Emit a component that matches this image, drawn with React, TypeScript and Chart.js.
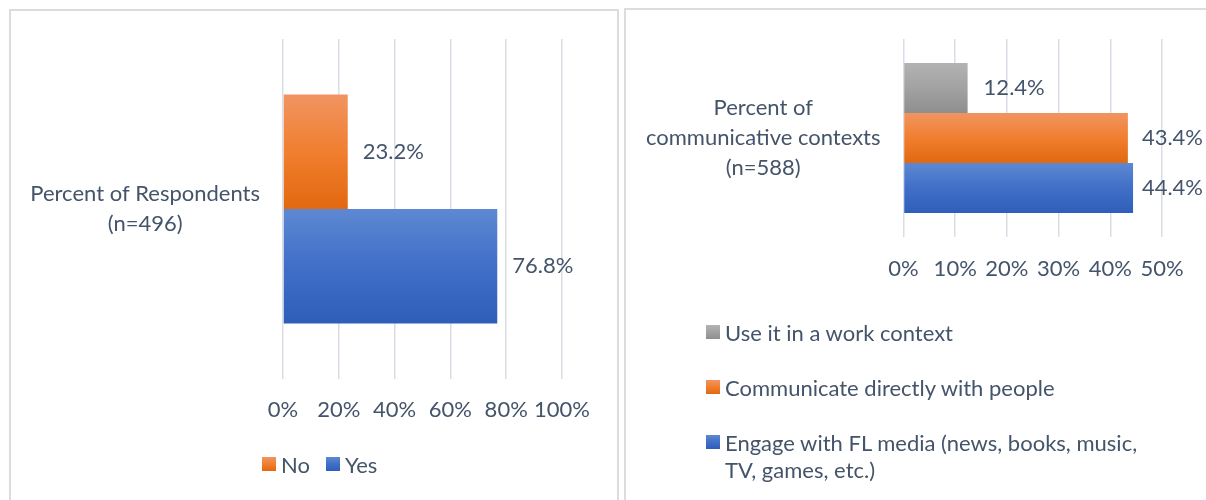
import React, { useEffect, useRef } from 'react';
import { Chart, registerables } from 'chart.js';

Chart.register(...registerables);

const FONT = 'Lato, "Open Sans", sans-serif';
const TEXT = '#44546a';
const GRID = '#d9dee6';
const FS = 22;

// ---- data ----
const leftCategories = [['Percent of Respondents', '(n=496)']];
const leftSeries = ['No', 'Yes'];
const leftValues = [23.2, 76.8];
const leftColors = ['orange', 'blue'];
const leftTickMax = 100;
const leftTickStep = 20;

const rightCategories = [['Percent of', 'communicative contexts', '(n=588)']];
const rightSeries = [
  'Use it in a work context',
  'Communicate directly with people',
  'Engage with FL media (news, books, music, TV, games, etc.)',
];
const rightValues = [12.4, 43.4, 44.4];
const rightColors = ['grey', 'orange', 'blue'];
const rightTickMax = 50;
const rightTickStep = 10;

const PALETTE: Record<string, string[]> = {
  orange: ['#f19462', '#f07f2f', '#e2680f'],
  blue: ['#5e88d2', '#416fc8', '#2e5eb9'],
  grey: ['#b3b3b3', '#a2a2a2', '#8e8e8e'],
};

const gradientPlugin = {
  id: 'barGradient',
  beforeDatasetsDraw(chart: any, _args: any, opts: any) {
    const ctx = chart.ctx;
    chart.data.datasets.forEach((_ds: any, i: number) => {
      const meta = chart.getDatasetMeta(i);
      const stops: string[] = PALETTE[opts.colors[i]];
      meta.data.forEach((el: any) => {
        const top = el.y - el.height / 2;
        const bottom = el.y + el.height / 2;
        const g = ctx.createLinearGradient(0, top, 0, bottom);
        stops.forEach((c, k) => g.addColorStop(k / (stops.length - 1), c));
        el.options = { ...el.options, backgroundColor: g };
      });
    });
  },
};

const valueLabelPlugin = {
  id: 'valueLabels',
  afterDatasetsDraw(chart: any, _args: any, opts: any) {
    const ctx = chart.ctx;
    ctx.save();
    ctx.font = `${FS}px ${FONT}`;
    ctx.fillStyle = TEXT;
    ctx.textAlign = 'left';
    ctx.textBaseline = 'middle';
    chart.data.datasets.forEach((ds: any, i: number) => {
      const meta = chart.getDatasetMeta(i);
      meta.data.forEach((el: any, j: number) => {
        const txt = `${Number(ds.data[j]).toFixed(1)}%`;
        const w = ctx.measureText(txt).width;
        const x = Math.min(el.x + opts.offset, chart.width - w - 3);
        ctx.fillText(txt, x, el.y);
      });
    });
    ctx.restore();
  },
};

type BarChartProps = {
  width: number;
  height: number;
  categories: string[][];
  series: string[];
  values: number[];
  colors: string[];
  tickMax: number;
  tickStep: number;
  catPct: number;
  yWidth: number;
  padding: { top: number; right: number; bottom: number };
  xHeight: number;
  tickPad: number;
  labelOffset: number;
};

function BarChart(p: BarChartProps) {
  const ref = useRef<HTMLCanvasElement>(null);
  useEffect(() => {
    if (!ref.current) return;
    const chart = new Chart(ref.current, {
      type: 'bar',
      data: {
        labels: p.categories as any,
        datasets: p.series.map((name, i) => ({
          label: name,
          data: [p.values[i]],
          backgroundColor: PALETTE[p.colors[i]][1],
          borderWidth: 0,
          categoryPercentage: p.catPct,
          barPercentage: 1,
        })),
      },
      options: {
        indexAxis: 'y',
        responsive: false,
        maintainAspectRatio: false,
        animation: false,
        layout: { padding: { left: 0, right: p.padding.right, top: p.padding.top, bottom: p.padding.bottom } },
        plugins: {
          legend: { display: false },
          tooltip: { enabled: false },
          barGradient: { colors: p.colors },
          valueLabels: { offset: p.labelOffset },
        } as any,
        scales: {
          x: {
            min: 0,
            max: p.tickMax,
            ticks: {
              stepSize: p.tickStep,
              autoSkip: false,
              callback: (v: any) => `${v}%`,
              color: TEXT,
              font: { family: FONT, size: FS },
              padding: p.tickPad,
              maxRotation: 0,
            },
            grid: { color: GRID, lineWidth: 1.5, drawTicks: false },
            border: { display: false },
            afterFit: (s: any) => {
              s.height = p.xHeight;
            },
          },
          y: {
            grid: { display: false, drawTicks: false },
            border: { display: false },
            ticks: {
              crossAlign: 'center',
              padding: 23,
              color: TEXT,
              font: { family: FONT, size: FS, lineHeight: 30 / FS },
            },
            afterFit: (s: any) => {
              s.width = p.yWidth;
              s.paddingTop = 0;
              s.paddingBottom = 0;
            },
          },
        },
      },
      plugins: [gradientPlugin, valueLabelPlugin],
    });
    let alive = true;
    if ((document as any).fonts) {
      (document as any).fonts.load(`${FS}px Lato`).then(() => {
        if (alive) chart.update();
      });
    }
    return () => {
      alive = false;
      chart.destroy();
    };
  }, []);
  return <canvas ref={ref} width={p.width} height={p.height} style={{ display: 'block' }} />;
}

function LegendItem({ name, color, textWidth }: { name: string; color: string; textWidth?: number }) {
  const stops = PALETTE[color];
  return (
    <div style={{ display: 'flex', alignItems: 'flex-start' }}>
      <span
        style={{
          width: 14,
          height: 14,
          marginTop: 6.5,
          marginRight: 5,
          flex: '0 0 14px',
          background: `linear-gradient(${stops[0]}, ${stops[1]}, ${stops[2]})`,
        }}
      />
      <span style={{ width: textWidth, whiteSpace: textWidth ? 'normal' : 'nowrap' }}>{name}</span>
    </div>
  );
}

export default function App() {
  return (
    <div
      style={{
        position: 'fixed',
        left: 0,
        top: 0,
        width: 1206,
        height: 500,
        overflow: 'hidden',
        background: '#ffffff',
        fontFamily: FONT,
        color: TEXT,
        fontSize: FS,
        lineHeight: '27px',
      }}
    >
      <div
        style={{
          position: 'absolute',
          left: 9,
          top: 9,
          width: 610,
          height: 520,
          boxSizing: 'border-box',
          border: '2px solid #dcdcdc',
        }}
      />
      <div
        style={{
          position: 'absolute',
          left: 624,
          top: 8,
          width: 700,
          height: 520,
          boxSizing: 'border-box',
          border: '2px solid #dcdcdc',
        }}
      />
      <div style={{ position: 'absolute', left: 11, top: 11 }}>
        <BarChart
          width={606}
          height={489}
          categories={leftCategories}
          series={leftSeries}
          values={leftValues}
          colors={leftColors}
          tickMax={leftTickMax}
          tickStep={leftTickStep}
          catPct={0.674}
          yWidth={272}
          padding={{ top: 28, right: 55, bottom: 61 }}
          xHeight={60}
          tickPad={18}
          labelOffset={15}
        />
      </div>
      <div style={{ position: 'absolute', left: 626, top: 10 }}>
        <BarChart
          width={580}
          height={490}
          categories={rightCategories}
          series={rightSeries}
          values={rightValues}
          colors={rightColors}
          tickMax={rightTickMax}
          tickStep={rightTickStep}
          catPct={0.758}
          yWidth={277.5}
          padding={{ top: 29, right: 44, bottom: 213 }}
          xHeight={50}
          tickPad={19}
          labelOffset={16}
        />
      </div>
      <div style={{ position: 'absolute', left: 262, top: 450.5, display: 'flex', gap: 16 }}>
        {leftSeries.map((s, i) => (
          <LegendItem key={s} name={s} color={leftColors[i]} />
        ))}
      </div>
      <div
        style={{
          position: 'absolute',
          left: 706,
          top: 318.5,
          display: 'flex',
          flexDirection: 'column',
          gap: 28,
        }}
      >
        {rightSeries.map((s, i) => (
          <LegendItem key={s} name={s} color={rightColors[i]} textWidth={440} />
        ))}
      </div>
    </div>
  );
}
